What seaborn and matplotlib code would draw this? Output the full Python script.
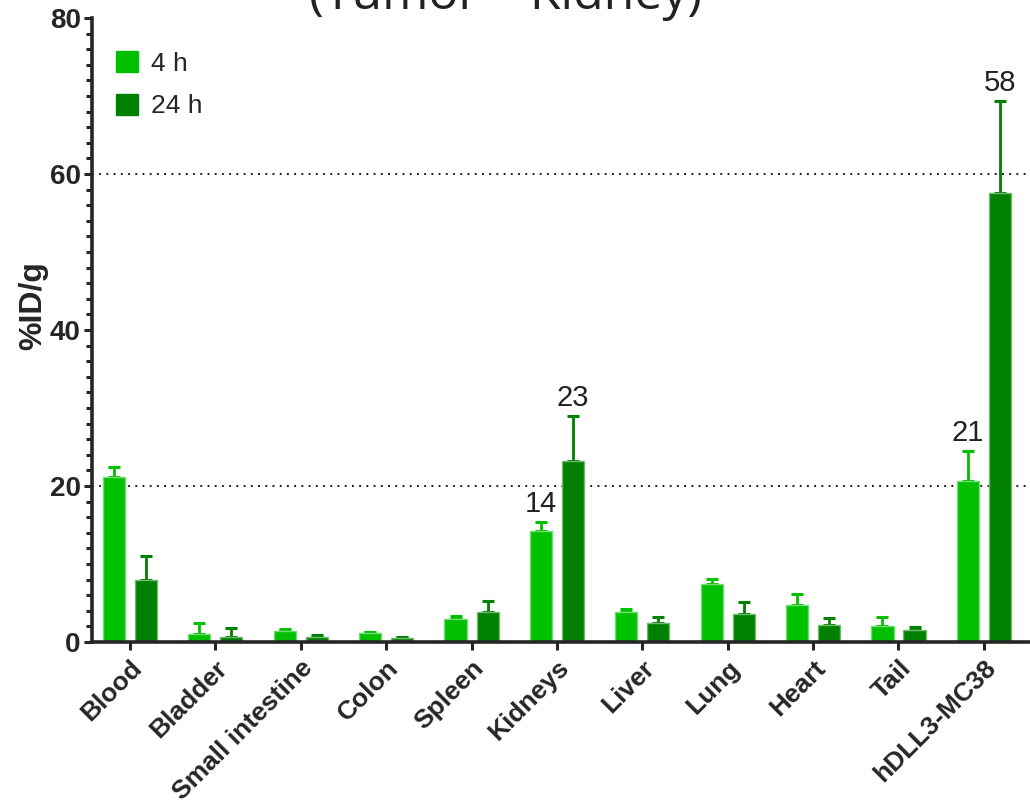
import numpy as np
import pandas as pd
import matplotlib
matplotlib.use("Agg")
import matplotlib.pyplot as plt
import seaborn as sns
from matplotlib.colors import to_rgb
from matplotlib.patches import Patch
from matplotlib.ticker import MultipleLocator

# Biodistribution (%ID/g) per organ at two time points
organs = ["Blood", "Bladder", "Small intestine", "Colon", "Spleen", "Kidneys",
          "Liver", "Lung", "Heart", "Tail", "hDLL3-MC38"]
timepoints = ["4 h", "24 h"]
mean_4h = [21.1, 1.0, 1.4, 1.15, 3.0, 14.2, 3.9, 7.5, 4.7, 2.1, 20.6]
sd_4h = [1.4, 1.5, 0.25, 0.2, 0.35, 1.2, 0.35, 0.6, 1.5, 1.1, 3.9]
mean_24h = [7.9, 0.65, 0.65, 0.47, 3.8, 23.2, 2.4, 3.55, 2.15, 1.5, 57.6]
sd_24h = [3.1, 1.15, 0.3, 0.2, 1.5, 5.8, 0.75, 1.55, 0.95, 0.42, 11.8]
labelled_organs = ["Kidneys", "hDLL3-MC38"]
title = "(Tumor – Kidney)"
colors = ["#00C000", "#008000"]

df = pd.DataFrame({
    "organ": organs * 2,
    "time": [timepoints[0]] * len(organs) + [timepoints[1]] * len(organs),
    "value": mean_4h + mean_24h,
    "sd": sd_4h + sd_24h,
})

sns.set_style("ticks")
plt.rcParams["font.family"] = ["Liberation Sans", "DejaVu Sans"]

fig = plt.figure(figsize=(10.3, 8.08), dpi=100)
ax = fig.add_axes([0.0893, 0.2054, 0.9107, 0.7723])

sns.barplot(data=df, x="organ", y="value", hue="time", order=organs,
            hue_order=timepoints, palette=colors, width=0.75, gap=0.31,
            errorbar=None, saturation=1, legend=False, ax=ax, zorder=3)

# lighter outline around each bar
for cont, col in zip(ax.containers, colors):
    rgb = np.array(to_rgb(col))
    edge = rgb + (1 - rgb) * 0.45
    for bar in cont:
        bar.set_edgecolor(edge)
        bar.set_linewidth(1.0)

# upper-only error bars and value labels
for cont, col, t in zip(ax.containers, colors, timepoints):
    sub = df[df["time"] == t].set_index("organ").loc[organs]
    xs = [b.get_x() + b.get_width() / 2 for b in cont]
    hs = sub["value"].to_numpy()
    sds = sub["sd"].to_numpy()
    ax.errorbar(xs, hs, yerr=[np.zeros_like(sds), sds], fmt="none",
                ecolor=col, elinewidth=2, capsize=4, capthick=2.2, zorder=2)
    for org, x, h, s in zip(organs, xs, hs, sds):
        if org in labelled_organs:
            ax.annotate(f"{h:.0f}", (x, h + s), xytext=(0, 3),
                        textcoords="offset points", ha="center", va="bottom",
                        fontsize=21, color="#222222")

for yv in (20, 60):
    ax.axhline(yv, ls=(0, (1, 3)), lw=1.3, color="black", zorder=1)

ax.set_ylim(0, 80)
ax.set_xlim(-0.445, 10.54)
ax.set_yticks([0, 20, 40, 60, 80])
ax.yaxis.set_minor_locator(MultipleLocator(2))
ax.tick_params(axis="y", which="major", length=6, width=2.2, labelsize=20, pad=2)
ax.tick_params(axis="y", which="minor", length=4, width=2.2)
ax.tick_params(axis="x", which="major", length=6, width=2.2, labelsize=19, pad=4)
for lab in ax.get_yticklabels():
    lab.set_fontweight("bold")
ax.set_xticks(range(len(organs)))
ax.set_xticklabels(organs, rotation=45, ha="right", rotation_mode="anchor",
                   fontweight="bold")
ax.set_xlabel("")
ax.set_ylabel("%ID/g", fontsize=23, fontweight="bold", labelpad=8)
ax.yaxis.set_label_coords(-0.047, 0.54)

sns.despine(ax=ax)
for sp in ("left", "bottom"):
    ax.spines[sp].set_linewidth(2.6)
    ax.spines[sp].set_zorder(4)

handles = [Patch(facecolor=c, edgecolor=c) for c in colors]
ax.legend(handles, timepoints, loc="upper left", bbox_to_anchor=(0.0, 0.985),
          frameon=False, fontsize=19, handlelength=0.85, handleheight=0.85,
          handletextpad=0.5, labelspacing=0.68)

fig.text(0.491, 0.989, title, ha="center", va="baseline", fontsize=36,
         color="#222222", family=["Open Sans", "DejaVu Sans"])

fig.savefig("out.png", dpi=100)
